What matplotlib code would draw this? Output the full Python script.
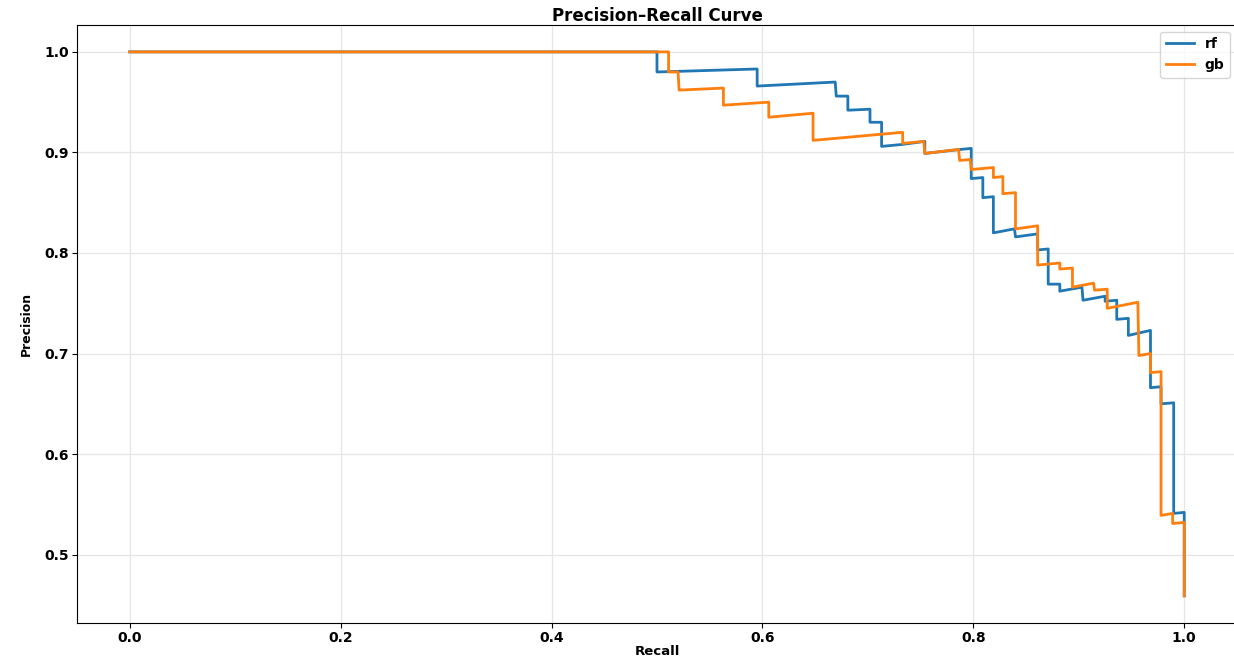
import matplotlib
matplotlib.use("Agg")
import matplotlib.pyplot as plt

# precision-recall points for each model (recall, precision)
rf_recall = [0.0, 0.500, 0.500, 0.595, 0.595, 0.669, 0.670, 0.681, 0.681, 0.702,
             0.702, 0.713, 0.713, 0.733, 0.754, 0.754, 0.788, 0.798, 0.798, 0.809,
             0.809, 0.819, 0.819, 0.839, 0.840, 0.861, 0.861, 0.871, 0.871, 0.882,
             0.882, 0.903, 0.904, 0.925, 0.925, 0.936, 0.936, 0.947, 0.947, 0.968,
             0.968, 0.978, 0.978, 0.990, 0.990, 1.0, 1.0]
rf_precision = [1.0, 1.0, 0.980, 0.983, 0.966, 0.970, 0.956, 0.956, 0.942, 0.943,
                0.930, 0.930, 0.906, 0.908, 0.911, 0.899, 0.903, 0.904, 0.874, 0.875,
                0.855, 0.856, 0.820, 0.824, 0.816, 0.819, 0.803, 0.804, 0.769, 0.769,
                0.762, 0.766, 0.753, 0.757, 0.752, 0.753, 0.734, 0.735, 0.718, 0.723,
                0.666, 0.667, 0.650, 0.651, 0.541, 0.542, 0.459]

gb_recall = [0.0, 0.511, 0.511, 0.520, 0.521, 0.563, 0.563, 0.606, 0.606, 0.648,
             0.648, 0.733, 0.733, 0.753, 0.754, 0.786, 0.787, 0.797, 0.798, 0.819,
             0.819, 0.828, 0.828, 0.840, 0.840, 0.861, 0.861, 0.882, 0.882, 0.894,
             0.894, 0.914, 0.915, 0.927, 0.927, 0.956, 0.957, 0.968, 0.968, 0.978,
             0.978, 0.989, 0.989, 1.0, 1.0]
gb_precision = [1.0, 1.0, 0.980, 0.980, 0.962, 0.964, 0.947, 0.950, 0.935, 0.939,
                0.912, 0.920, 0.909, 0.911, 0.899, 0.903, 0.892, 0.893, 0.883, 0.885,
                0.875, 0.876, 0.859, 0.860, 0.824, 0.827, 0.788, 0.790, 0.784, 0.785,
                0.766, 0.770, 0.763, 0.764, 0.745, 0.751, 0.698, 0.700, 0.681, 0.682,
                0.539, 0.541, 0.531, 0.532, 0.459]

x_ticks = [0.0, 0.2, 0.4, 0.6, 0.8, 1.0]
y_ticks = [0.5, 0.6, 0.7, 0.8, 0.9, 1.0]

plt.rcParams['font.family'] = ['DejaVu Sans']
plt.rcParams['font.weight'] = 'bold'

fig = plt.figure(figsize=(12.34, 6.56), dpi=100)
ax = fig.add_axes([0.0624, 0.0503, 0.94, 0.912])

ax.plot(rf_recall, rf_precision, color='#1f77b4', lw=2, label='rf')
ax.plot(gb_recall, gb_precision, color='#ff7f0e', lw=2, label='gb')

ax.set_xticks(x_ticks)
ax.set_yticks(y_ticks)
ax.set_xlim(-0.05, 1.05)
ax.set_ylim(0.432, 1.027)
ax.tick_params(labelsize=10, pad=2.5)
for lbl in ax.get_xticklabels() + ax.get_yticklabels():
    lbl.set_fontweight('bold')

ax.grid(True, color='#e6e6e6', lw=0.9)
ax.set_axisbelow(True)

ax.set_title('Precision\u2013Recall Curve', fontsize=12, fontweight='bold', pad=3)
ax.set_xlabel('Recall', fontsize=9.5, fontweight='bold', labelpad=0)
ax.set_ylabel('Precision', fontsize=9, fontweight='bold', labelpad=8)

ax.legend(loc='upper right', prop={'weight': 'bold', 'size': 10})

fig.savefig('out.png', dpi=100)
